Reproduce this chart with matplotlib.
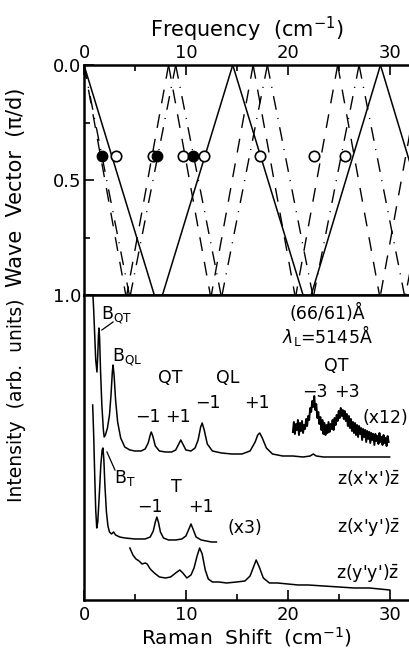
import numpy as np
import matplotlib.pyplot as plt
from matplotlib.ticker import MultipleLocator

###### dispersao ######
# cada segmento: (freq em q=0, freq em q=1), cm^-1
seg_ql = [(0.0, 6.9), (14.6, 7.7), (14.6, 21.5), (29.1, 22.3), (29.1, 35.9)]
seg_qt = [(0.0, 4.1), (8.3, 4.2), (8.3, 12.4), (16.6, 12.5),
          (16.6, 20.7), (24.9, 20.8), (24.9, 29.0), (33.2, 29.1)]
seg_t = [(0.0, 4.45), (9.0, 4.55), (9.0, 13.45), (18.0, 13.55),
         (18.0, 22.45), (27.0, 22.55), (27.0, 31.45), (36.0, 31.55)]

q_luz = 0.395
f_aberto = [3.14, 6.76, 9.7, 11.76, 17.25, 22.55, 25.6]
f_cheio = [1.76, 7.16, 10.7]

###### espectros Raman ######
xx_f = [0.85, 0.95, 1.05, 1.15, 1.27, 1.35, 1.42, 1.47, 1.53, 1.62, 1.75, 1.9,
        1.98, 2.1, 2.3, 2.5, 2.65, 2.78, 2.85, 2.95, 3.1, 3.3, 3.6, 4.0, 4.5,
        5.0, 5.6, 6.0, 6.3, 6.5, 6.6, 6.75, 7.0, 7.4, 8.0, 8.6, 9.0, 9.3, 9.5,
        9.7, 10.0, 10.5, 10.9, 11.2, 11.45, 11.6, 11.8, 12.1, 12.6, 13.5, 14.5,
        15.5, 16.3, 16.8, 17.05, 17.25, 17.5, 17.9, 18.5, 19.5, 20.5, 21.5,
        22.2, 22.5, 22.8, 23.5, 25.0, 26.5, 28.0, 29.0, 30.0]
xx_i = [310, 290, 265, 240, 228, 245, 265, 272, 262, 230, 195, 170,
        163, 165, 172, 185, 205, 228, 235, 225, 200, 178, 162, 153, 150,
        149, 149, 151, 157, 165, 168, 164, 154, 149, 148, 148, 150, 156, 160,
        156, 150, 149, 152, 160, 173, 177, 170, 156, 149, 147, 146,
        146, 149, 158, 165, 167, 162, 152, 146, 144, 144, 143,
        144, 146, 144, 143, 143, 143, 143, 143, 143]

x12_f = [20.50, 20.60, 20.70, 20.80, 20.90, 21.00, 21.10, 21.20, 21.30, 21.40,
         21.50, 21.60, 21.70, 21.80, 21.90, 22.00, 22.10, 22.20, 22.30, 22.40,
         22.50, 22.60, 22.70, 22.80, 22.90, 23.00, 23.10, 23.20, 23.30, 23.40,
         23.50, 23.60, 23.70, 23.80, 23.90, 24.00, 24.10, 24.20, 24.30, 24.40,
         24.50, 24.60, 24.70, 24.80, 24.90, 25.00, 25.10, 25.20, 25.30, 25.40,
         25.50, 25.60, 25.70, 25.80, 25.90, 26.00, 26.10, 26.20, 26.30, 26.40,
         26.50, 26.60, 26.70, 26.80, 26.90, 27.00, 27.10, 27.20, 27.30, 27.40,
         27.50, 27.60, 27.70, 27.80, 27.90, 28.00, 28.10, 28.20, 28.30, 28.40,
         28.50, 28.60, 28.70, 28.80, 28.90, 29.00, 29.10, 29.20, 29.30, 29.40,
         29.50, 29.60, 29.70, 29.80, 29.90]
x12_i = [168, 178, 166, 176, 170, 180, 165, 177, 169, 179,
         167, 175, 171, 181, 174, 184, 180, 192, 188, 199,
         193, 204, 190, 196, 182, 188, 176, 183, 170, 180,
         166, 177, 165, 175, 167, 178, 168, 176, 171, 180,
         170, 182, 175, 185, 179, 189, 182, 192, 184, 190,
         181, 189, 179, 186, 174, 184, 172, 181, 169, 178,
         167, 177, 165, 175, 163, 174, 166, 172, 160, 171,
         163, 170, 158, 169, 161, 168, 157, 167, 160, 166,
         155, 166, 159, 164, 156, 167, 158, 163, 155, 165,
         157, 162, 154, 164, 158]

xy_f = [0.85, 0.95, 1.05, 1.15, 1.25, 1.35, 1.5, 1.65, 1.78, 1.86, 1.95, 2.05,
        2.2, 2.35, 2.5, 2.7, 2.9, 3.1, 3.5, 4.0, 5.0, 6.0, 6.5, 6.8, 7.0, 7.15,
        7.3, 7.5, 7.8, 8.3, 9.0, 9.6, 10.0, 10.3, 10.5, 10.7, 11.0, 11.5, 12.0,
        12.5, 13.0]
xy_i = [195, 165, 125, 90, 72, 78, 105, 135, 150, 152, 140, 115,
        88, 74, 68, 66, 68, 65, 63, 62, 61, 61, 63, 69, 78, 83,
        78, 68, 62, 60, 60, 61, 64, 71, 76, 71, 63, 60, 59,
        58, 58]

yy_f = [4.5, 4.8, 5.1, 5.4, 5.7, 6.0, 6.2, 6.5, 6.9, 7.4, 8.0, 8.5, 9.0, 9.4,
        9.7, 10.1, 10.5, 10.8, 11.1, 11.35, 11.6, 11.9, 12.2, 12.6, 13.2, 14.0,
        15.0, 15.8, 16.3, 16.6, 16.9, 17.2, 17.6, 18.2, 19.0, 20.0, 21.0, 22.0,
        23.5, 25.0, 26.5, 28.0, 29.0, 30.0]
yy_i = [52, 45, 41, 39, 36, 37, 36, 31, 27, 23, 22, 23, 27, 30,
        27, 22, 25, 32, 44, 52, 46, 30, 21, 18, 18, 17,
        18, 19, 24, 32, 40, 33, 22, 17, 17, 16, 15, 15,
        14, 13, 12, 12, 11, 10]

###### figura ######
plt.rcParams['font.family'] = 'DejaVu Sans'
fig = plt.figure(figsize=(4.09, 6.55), dpi=100)
ax1 = fig.add_axes([0.2054, 0.5496, 0.7946, 0.3511])
ax2 = fig.add_axes([0.2054, 0.084, 0.7946, 0.4656])
xmax = 31.9

for f0, f1 in seg_ql:
    ax1.plot([f0, f1], [0, 1], color='k', lw=1.1)
for f0, f1 in seg_qt:
    ax1.plot([f0, f1], [0, 1], color='k', lw=1.0, ls=(0, (10, 8)))
for f0, f1 in seg_t:
    ax1.plot([f0, f1], [0, 1], color='k', lw=1.0, ls=(0, (10, 6, 0.8, 6)))
ax1.plot(f_aberto, [q_luz]*len(f_aberto), 'o', ms=7.5, mfc='white', mec='k', mew=1.2)
ax1.plot(f_cheio, [q_luz]*len(f_cheio), 'o', ms=7.5, mfc='k', mec='k')

ax1.set_xlim(0, xmax)
ax1.set_ylim(1.0, 0.0)
ax1.xaxis.set_label_position('top')
ax1.xaxis.tick_top()
ax1.set_xticks([0, 10, 20, 30])
ax1.xaxis.set_minor_locator(MultipleLocator(5))
ax1.set_yticks([0.0, 0.5, 1.0])
ax1.set_yticklabels(['0.0', '0.5', '1.0'])
ax1.yaxis.set_minor_locator(MultipleLocator(0.25))
ax1.set_xlabel('Frequency  (cm$^{-1}$)', fontsize=15, labelpad=5)
ax1.tick_params(which='both', direction='in', labelsize=13, width=1.2, pad=2)
ax1.tick_params(which='major', length=7)
ax1.tick_params(which='minor', length=4)
ax1.tick_params(axis='x', bottom=False)

ax2.plot(xx_f, xx_i, color='k', lw=1.1)
ax2.plot(x12_f, x12_i, color='k', lw=1.4)
ax2.plot(xy_f, xy_i, color='k', lw=1.1)
ax2.plot(yy_f, yy_i, color='k', lw=1.1)
ax2.set_xlim(0, xmax)
ax2.set_ylim(0, 305)
ax2.set_yticks([])
ax2.set_xticks([0, 10, 20, 30])
ax2.xaxis.set_minor_locator(MultipleLocator(5))
ax2.tick_params(which='both', direction='in', labelsize=13, width=1.2, pad=4, top=False)
ax2.tick_params(which='major', length=7)
ax2.tick_params(which='minor', length=4)
ax2.set_xlabel('Raman  Shift  (cm$^{-1}$)', fontsize=14.5, labelpad=1)

for ax in (ax1, ax2):
    ax.spines['right'].set_visible(False)
    for s in ('left', 'top', 'bottom'):
        ax.spines[s].set_linewidth(1.8)

fig.text(0.04, 1 - 187/655, 'Wave  Vector  (\u03c0/d)', rotation=90, fontsize=15,
         ha='center', va='center')
fig.text(0.04, 1 - 400/655, 'Intensity  (arb.  units)', rotation=90, fontsize=13.5,
         ha='center', va='center')

###### anotacoes ######
fs = 12.5
ax2.text(3.2, 285, '$\\mathrm{B}_{\\rm QT}$', fontsize=fs, ha='center', va='center')
ax2.plot([2.85, 1.75], [278, 270], color='k', lw=0.9)
ax2.text(4.2, 243, '$\\mathrm{B}_{\\rm QL}$', fontsize=fs, ha='center', va='center')
ax2.text(8.5, 222, 'QT', fontsize=fs, ha='center', va='center')
ax2.text(14.1, 222, 'QL', fontsize=fs, ha='center', va='center')
ax2.text(6.3, 183, '\u22121', fontsize=fs, ha='center', va='center')
ax2.text(9.2, 183, '+1', fontsize=fs, ha='center', va='center')
ax2.text(12.2, 197, '\u22121', fontsize=fs, ha='center', va='center')
ax2.text(17.0, 197, '+1', fontsize=fs, ha='center', va='center')
ax2.text(24.8, 234, 'QT', fontsize=fs, ha='center', va='center')
ax2.text(22.7, 208, '\u22123', fontsize=fs, ha='center', va='center')
ax2.text(25.8, 208, '+3', fontsize=fs, ha='center', va='center')
ax2.text(29.6, 182, '(x12)', fontsize=fs, ha='center', va='center')
ax2.text(23.9, 287, '(66/61)\u00c5', fontsize=fs, ha='center', va='center')
ax2.text(23.9, 265, '$\\lambda_{\\rm L}$=5145\u00c5', fontsize=fs, ha='center', va='center')
ax2.text(27.9, 122, "z(x'x')$\\bar{\\rm z}$", fontsize=fs, ha='center', va='center')
ax2.text(4.0, 122, '$\\mathrm{B}_{\\rm T}$', fontsize=fs, ha='center', va='center')
ax2.plot([2.25, 3.04], [148, 130], color='k', lw=0.9)
ax2.text(9.1, 113, 'T', fontsize=fs, ha='center', va='center')
ax2.text(6.5, 93, '\u22121', fontsize=fs, ha='center', va='center')
ax2.text(11.5, 93, '+1', fontsize=fs, ha='center', va='center')
ax2.text(15.8, 72, '(x3)', fontsize=fs, ha='center', va='center')
ax2.text(27.9, 73, "z(x'y')$\\bar{\\rm z}$", fontsize=fs, ha='center', va='center')
ax2.text(27.8, 27, "z(y'y')$\\bar{\\rm z}$", fontsize=fs, ha='center', va='center')

fig.savefig('out.png', dpi=100)
